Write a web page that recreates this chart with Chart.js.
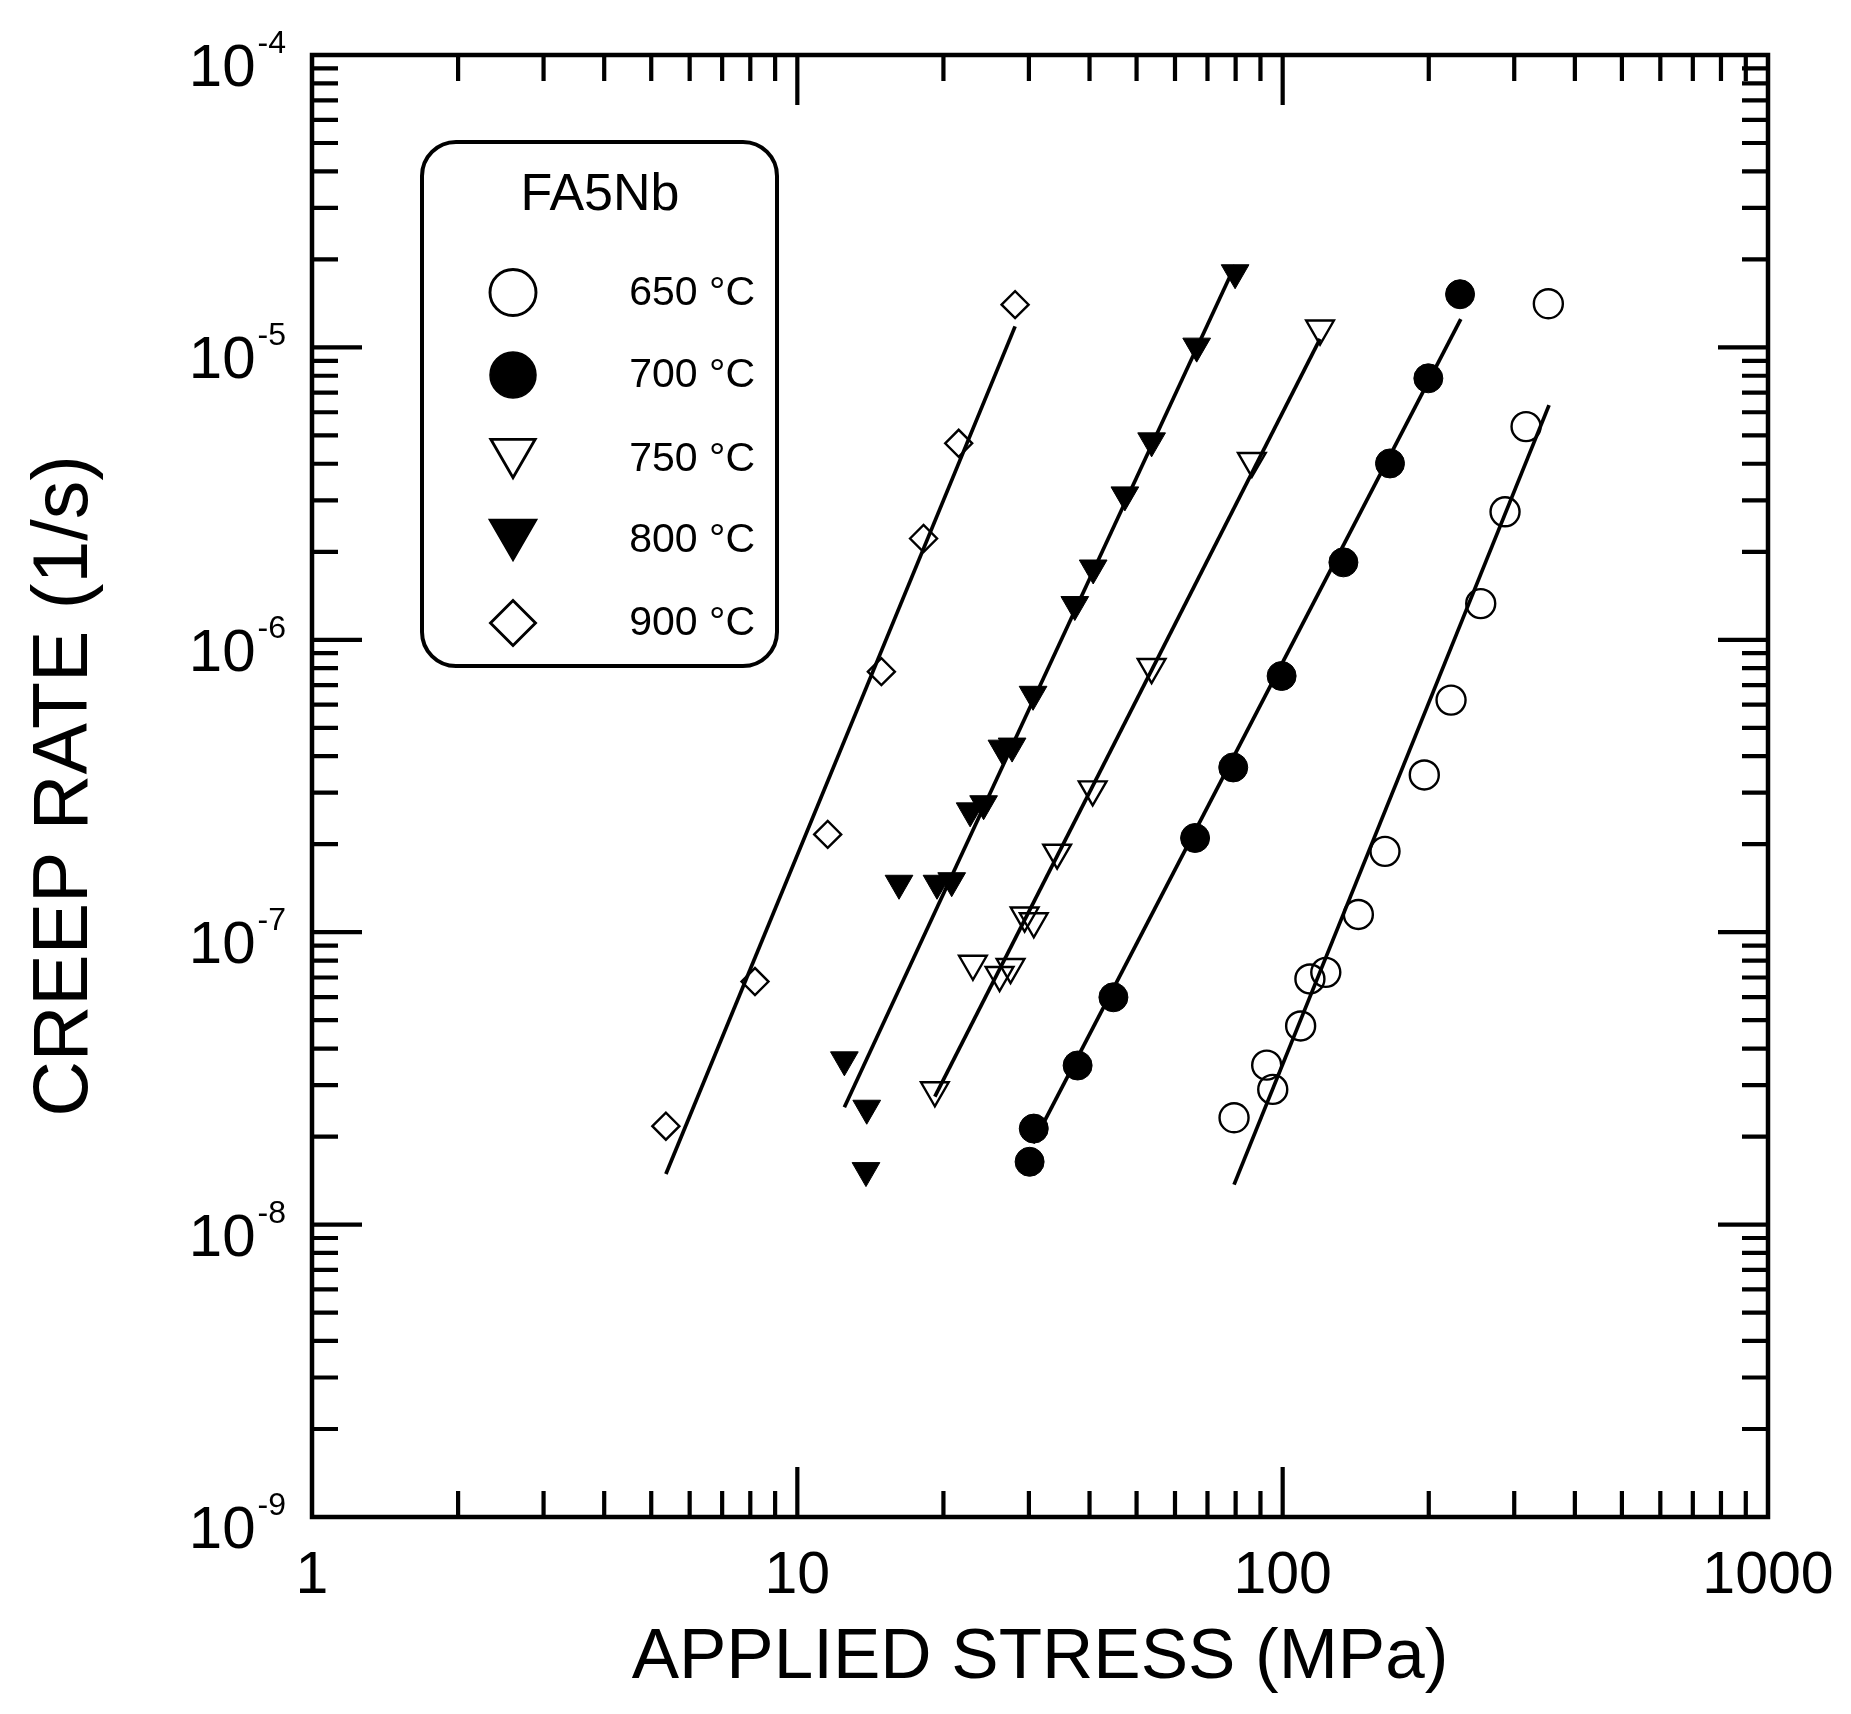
<!DOCTYPE html>
<html>
<head>
<meta charset="utf-8">
<title>FA5Nb creep rate</title>
<script src="https://cdn.jsdelivr.net/npm/chart.js@4.4.1/dist/chart.umd.min.js"></script>
<style>
    html, body { margin: 0; padding: 0; background: #fff; }
    #wrap { width: 1851px; height: 1714px; }
</style>
</head>
<body>
<div id="wrap"><canvas id="creepChart" width="1851" height="1714"></canvas></div>
<script>
// values: stress (MPa) and minimum creep rate (1/s)
const stress650 = [352.7, 317.3, 287.2, 255.9, 222.3, 195.8, 162.5, 143.2, 122.7, 113.8, 108.9, 92.7, 95.4, 79.4];
const rate650 = [1.41e-5, 5.36e-6, 2.74e-6, 1.33e-6, 6.22e-7, 3.45e-7, 1.89e-7, 1.15e-7, 7.29e-8, 6.92e-8, 4.78e-8, 3.51e-8, 2.90e-8, 2.32e-8];

const stress700 = [232, 199.6, 166.4, 133.4, 99.5, 79.1, 66.0, 44.8, 37.8, 30.7, 30.1];
const rate700 = [1.52e-5, 7.84e-6, 4.01e-6, 1.84e-6, 7.52e-7, 3.66e-7, 2.10e-7, 5.99e-8, 3.50e-8, 2.13e-8, 1.64e-8];

const stress750 = [119.4, 86.4, 53.7, 40.6, 34.3, 29.4, 30.7, 23.0, 26.1, 27.5, 19.2];
const rate750 = [1.16e-5, 4.09e-6, 8.07e-7, 3.08e-7, 1.87e-7, 1.14e-7, 1.09e-7, 7.80e-8, 7.14e-8, 7.60e-8, 2.88e-8];

const stress800 = [79.8, 66.5, 53.7, 47.3, 40.7, 37.3, 30.6, 26.4, 27.7, 22.7, 24.2, 16.2, 19.4, 20.8, 12.5, 13.9, 13.85];
const rate800 = [1.80e-5, 1.01e-5, 4.79e-6, 3.13e-6, 1.76e-6, 1.32e-6, 6.51e-7, 4.26e-7, 4.33e-7, 2.60e-7, 2.75e-7, 1.47e-7, 1.47e-7, 1.50e-7, 3.66e-8, 2.50e-8, 1.53e-8];

const stress900 = [28.1, 21.5, 18.2, 14.9, 11.55, 8.18, 5.36];
const rate900 = [1.40e-5, 4.70e-6, 2.22e-6, 7.78e-7, 2.16e-7, 6.78e-8, 2.17e-8];

// power-law fit lines, end points (stress, rate)
const fitStress650 = [79.4, 353.9];
const fitRate650 = [1.37e-8, 6.35e-6];
const fitStress700 = [30.6, 232.8];
const fitRate700 = [1.9e-8, 1.25e-5];
const fitStress750 = [19.2, 119.4];
const fitRate750 = [2.74e-8, 1.07e-5];
const fitStress800 = [12.5, 79.8];
const fitRate800 = [2.52e-8, 1.91e-5];
const fitStress900 = [5.36, 28.1];
const fitRate900 = [1.49e-8, 1.18e-5];

const seriesLabels = ['650 °C', '700 °C', '750 °C', '800 °C', '900 °C'];
const legendTitle = 'FA5Nb';
const xTickLabels = ['1', '10', '100', '1000'];
const yTickExponents = [-9, -8, -7, -6, -5, -4];

const FONT = '"Liberation Sans", Arial, Helvetica, sans-serif';

function pairs(xs, ys) {
    return xs.map((x, i) => ({ x: x, y: ys[i] }));
}

// marker styles: open circle, filled circle, open/filled down triangle, open diamond
const markerStyles = [
    { pointStyle: 'circle', rotation: 0, radius: 14.5, fill: 'rgba(0,0,0,0)', borderWidth: 2.4, legendRadius: 23 },
    { pointStyle: 'circle', rotation: 0, radius: 14.5, fill: '#000', borderWidth: 1, legendRadius: 23 },
    { pointStyle: 'triangle', rotation: 180, radius: 16, fill: 'rgba(0,0,0,0)', borderWidth: 2.4, legendRadius: 25.5 },
    { pointStyle: 'triangle', rotation: 180, radius: 16, fill: '#000', borderWidth: 1, legendRadius: 27.5 },
    { pointStyle: 'rectRot', rotation: 0, radius: 13.5, fill: 'rgba(0,0,0,0)', borderWidth: 2.4, legendRadius: 22.5 }
];

const pointSets = [
    pairs(stress650, rate650),
    pairs(stress700, rate700),
    pairs(stress750, rate750),
    pairs(stress800, rate800),
    pairs(stress900, rate900)
];
const fitSets = [
    pairs(fitStress650, fitRate650),
    pairs(fitStress700, fitRate700),
    pairs(fitStress750, fitRate750),
    pairs(fitStress800, fitRate800),
    pairs(fitStress900, fitRate900)
];

const datasets = [];
fitSets.forEach((pts, i) => {
    datasets.push({
        label: seriesLabels[i] + ' fit',
        data: pts,
        showLine: true,
        borderColor: '#000',
        borderWidth: 3.7,
        pointRadius: 0,
        fill: false,
        order: 2
    });
});
pointSets.forEach((pts, i) => {
    const m = markerStyles[i];
    datasets.push({
        label: seriesLabels[i],
        data: pts,
        showLine: false,
        pointStyle: m.pointStyle,
        rotation: m.rotation,
        pointRadius: m.radius,
        pointBackgroundColor: m.fill,
        pointBorderColor: '#000',
        pointBorderWidth: m.borderWidth,
        order: 1
    });
});

// frame, inward ticks on all four sides, y labels with superscripts, legend box
const decoration = {
    id: 'decoration',
    afterDatasetsDraw(chart) {
        const ctx = chart.ctx;
        const a = chart.chartArea;
        const xs = chart.scales.x;
        const ys = chart.scales.y;
        ctx.save();
        ctx.strokeStyle = '#000';
        ctx.fillStyle = '#000';

        // ticks
        ctx.lineWidth = 4.2;
        ctx.lineCap = 'butt';
        ctx.beginPath();
        for (let d = 0; d < 3; d++) {
            for (let m = 1; m <= 9; m++) {
                if (m === 1 && d === 0) continue;
                const px = xs.getPixelForValue(m * Math.pow(10, d));
                const len = m === 1 ? 50 : 26;
                ctx.moveTo(px, a.bottom); ctx.lineTo(px, a.bottom - len);
                ctx.moveTo(px, a.top); ctx.lineTo(px, a.top + len);
            }
        }
        for (let d = -9; d < -4; d++) {
            for (let m = 1; m <= 9; m++) {
                if (m === 1 && d === -9) continue;
                const py = ys.getPixelForValue(m * Math.pow(10, d));
                const len = m === 1 ? 50 : 26;
                ctx.moveTo(a.left, py); ctx.lineTo(a.left + len, py);
                ctx.moveTo(a.right, py); ctx.lineTo(a.right - len, py);
            }
        }
        ctx.stroke();

        // frame
        ctx.lineWidth = 4.5;
        ctx.lineJoin = 'miter';
        ctx.strokeRect(a.left, a.top, a.right - a.left, a.bottom - a.top);

        // y tick labels: 10 with superscript exponent
        const supRight = 286;
        yTickExponents.forEach(e => {
            const py = ys.getPixelForValue(Math.pow(10, e));
            ctx.textAlign = 'right';
            ctx.textBaseline = 'alphabetic';
            ctx.font = '32px ' + FONT;
            const sup = String(e);
            ctx.fillText(sup, supRight, py - 2);
            const w = ctx.measureText(sup).width;
            ctx.font = '60px ' + FONT;
            ctx.fillText('10', supRight - w - 2, py + 31);
        });

        // legend
        const box = { left: 422, top: 142, right: 777, bottom: 666, r: 34 };
        ctx.lineWidth = 4;
        ctx.fillStyle = '#fff';
        ctx.beginPath();
        ctx.roundRect(box.left, box.top, box.right - box.left, box.bottom - box.top, box.r);
        ctx.fill();
        ctx.stroke();

        ctx.fillStyle = '#000';
        ctx.textAlign = 'center';
        ctx.textBaseline = 'alphabetic';
        ctx.font = '52px ' + FONT;
        ctx.fillText(legendTitle, 600, 210);

        const rowY = [292.5, 375, 458.5, 540, 623];
        seriesLabels.forEach((lab, i) => {
            const m = markerStyles[i];
            // triangles: shift so the box of the glyph sits on the row
            const dy = m.pointStyle === 'triangle' ? -m.legendRadius / 4 : 0;
            ctx.lineWidth = m.borderWidth + 0.5;
            ctx.strokeStyle = '#000';
            ctx.fillStyle = m.fill;
            Chart.helpers.drawPoint(ctx, {
                pointStyle: m.pointStyle,
                rotation: m.rotation,
                radius: m.legendRadius,
                borderWidth: m.borderWidth + 0.5
            }, 513, rowY[i] + dy);
            ctx.fillStyle = '#000';
            ctx.textAlign = 'right';
            ctx.textBaseline = 'middle';
            ctx.font = '41px ' + FONT;
            ctx.fillText(lab, 755, rowY[i] + 1);
        });
        ctx.restore();
    }
};

new Chart(document.getElementById('creepChart'), {
    type: 'scatter',
    data: { datasets: datasets },
    options: {
        responsive: false,
        animation: false,
        devicePixelRatio: 1,
        layout: { padding: { top: 55, right: 83, left: 0, bottom: 0 } },
        plugins: {
            legend: { display: false },
            tooltip: { enabled: false }
        },
        scales: {
            x: {
                type: 'logarithmic',
                position: 'bottom',
                min: 1,
                max: 1000,
                grid: { display: false, drawTicks: false },
                border: { display: false },
                ticks: {
                    autoSkip: false,
                    maxRotation: 0,
                    padding: 24,
                    color: '#000',
                    font: { family: FONT, size: 59 },
                    callback: function(value) {
                        const s = String(value);
                        return xTickLabels.includes(s) ? s : '';
                    }
                },
                title: {
                    display: true,
                    text: 'APPLIED STRESS (MPa)',
                    color: '#000',
                    font: { family: FONT, size: 71 },
                    padding: { top: 0, bottom: 13 }
                },
                afterFit: function(scale) {
                    scale.height = 197;
                    scale.paddingLeft = 0;
                    scale.paddingRight = 0;
                }
            },
            y: {
                type: 'logarithmic',
                position: 'left',
                min: 1e-9,
                max: 1e-4,
                grid: { display: false, drawTicks: false },
                border: { display: false },
                ticks: { display: false },
                title: {
                    display: true,
                    text: 'CREEP RATE (1/s)',
                    color: '#000',
                    font: { family: FONT, size: 77 },
                    padding: { top: 20, bottom: 0 }
                },
                afterFit: function(scale) {
                    scale.width = 312;
                    scale.paddingTop = 0;
                    scale.paddingBottom = 0;
                }
            }
        }
    },
    plugins: [decoration]
});
</script>
</body>
</html>
